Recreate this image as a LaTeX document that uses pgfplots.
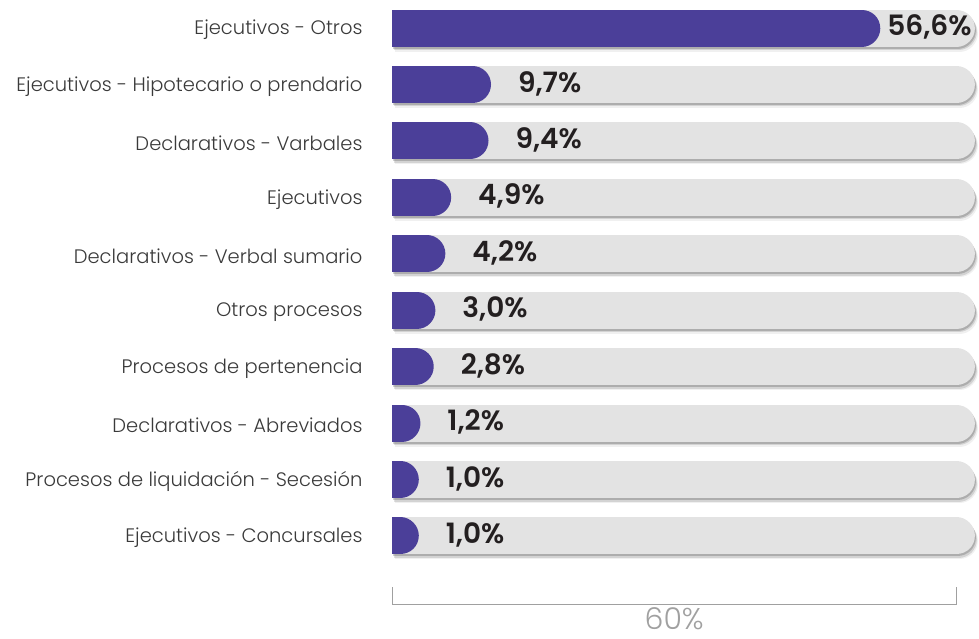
\documentclass[border=0pt]{standalone}
\usepackage{pgfplots}
\pgfplotsset{compat=1.18}
\usepackage{fontspec}
\setmainfont{Poppins}
\newfontfamily\lightfont{Poppins Light}
\newfontfamily\semifont{Poppins SemiBold}
\definecolor{barpurple}{HTML}{4B3F99}
\definecolor{track}{HTML}{E3E3E3}
\definecolor{labtxt}{HTML}{3A3A3A}
\definecolor{valtxt}{HTML}{231F20}
\definecolor{brk}{HTML}{A0A0A0}
\begin{document}
\begin{tikzpicture}
\path[use as bounding box] (0,0) rectangle (979pt,639pt);
\begin{axis}[
  at={(392pt,74.8pt)}, anchor=south west,
  x=8.3pt, y=56.44pt,
  xmin=0, xmax=72, ymin=0.5, ymax=10.5,
  y dir=reverse,
  clip mode=individual,
  axis line style={draw=none},
  tick style={draw=none},
  xtick=\empty,
  ytick={1,...,10},
  yticklabels={Ejecutivos - Otros, Ejecutivos - Hipotecario o prendario, Declarativos - Varbales, Ejecutivos, Declarativos - Verbal sumario, Otros procesos, Procesos de pertenencia, Declarativos - Abreviados, Procesos de liquidación - Secesión, Ejecutivos - Concursales},
  yticklabel style={font=\lightfont\fontsize{19.5}{22}\selectfont, text=labtxt, anchor=east, xshift=-26pt, yshift=-2pt},
  unbounded coords=jump,
]
% shadows of the tracks
\addplot[line width=37pt, line cap=round, black, opacity=0.06, shift={(3pt,-5pt)}] coordinates {
(0,1) (68,1) (nan,nan) (0,2) (68,2) (nan,nan) (0,3) (68,3) (nan,nan) (0,4) (68,4) (nan,nan) (0,5) (68,5) (nan,nan)
(0,6) (68,6) (nan,nan) (0,7) (68,7) (nan,nan) (0,8) (68,8) (nan,nan) (0,9) (68,9) (nan,nan) (0,10) (68,10)};
\addplot[line width=37pt, line cap=round, black, opacity=0.12, shift={(2pt,-3.5pt)}] coordinates {
(0,1) (68,1) (nan,nan) (0,2) (68,2) (nan,nan) (0,3) (68,3) (nan,nan) (0,4) (68,4) (nan,nan) (0,5) (68,5) (nan,nan)
(0,6) (68,6) (nan,nan) (0,7) (68,7) (nan,nan) (0,8) (68,8) (nan,nan) (0,9) (68,9) (nan,nan) (0,10) (68,10)};
\addplot[line width=37pt, line cap=round, black, opacity=0.18, shift={(1pt,-2pt)}] coordinates {
(0,1) (68,1) (nan,nan) (0,2) (68,2) (nan,nan) (0,3) (68,3) (nan,nan) (0,4) (68,4) (nan,nan) (0,5) (68,5) (nan,nan)
(0,6) (68,6) (nan,nan) (0,7) (68,7) (nan,nan) (0,8) (68,8) (nan,nan) (0,9) (68,9) (nan,nan) (0,10) (68,10)};
% tracks
\addplot[line width=37pt, line cap=round, track] coordinates {
(0,1) (68,1) (nan,nan) (0,2) (68,2) (nan,nan) (0,3) (68,3) (nan,nan) (0,4) (68,4) (nan,nan) (0,5) (68,5) (nan,nan)
(0,6) (68,6) (nan,nan) (0,7) (68,7) (nan,nan) (0,8) (68,8) (nan,nan) (0,9) (68,9) (nan,nan) (0,10) (68,10)};
% value bars
\addplot[line width=37pt, line cap=round, barpurple] coordinates {
(0,1) (56.6,1) (nan,nan) (0,2) (9.7,2) (nan,nan) (0,3) (9.4,3) (nan,nan) (0,4) (4.9,4) (nan,nan) (0,5) (4.2,5) (nan,nan)
(0,6) (3.0,6) (nan,nan) (0,7) (2.8,7) (nan,nan) (0,8) (1.2,8) (nan,nan) (0,9) (1.0,9) (nan,nan) (0,10) (1.0,10)};
% value labels
\addplot[draw=none, mark=none, nodes near coords, point meta=explicit symbolic,
  nodes near coords style={anchor=west, xshift=22pt, yshift=1pt, text=valtxt, font=\semifont\fontsize{28}{32}\selectfont}]
coordinates {(56.6,1) [56,6\%]};
\addplot[draw=none, mark=none, nodes near coords, point meta=explicit symbolic,
  nodes near coords style={anchor=west, xshift=42pt, yshift=1pt, text=valtxt, font=\semifont\fontsize{28}{32}\selectfont}]
coordinates {
(9.7,2) [9,7\%] (9.4,3) [9,4\%] (4.9,4) [4,9\%] (4.2,5) [4,2\%]
(3.0,6) [3,0\%] (2.8,7) [2,8\%] (1.2,8) [1,2\%] (1.0,9) [1,0\%] (1.0,10) [1,0\%]};
% bracket
\draw[brk, line width=0.9pt] (axis cs:0,10.904) -- (axis cs:0,11.205) -- (axis cs:68,11.205) -- (axis cs:68,10.904);
\node[anchor=base, inner sep=0pt, text=brk, font=\lightfont\fontsize{30}{34}\selectfont] at (axis cs:34,11.66) {60\%};
\end{axis}
\end{tikzpicture}
\end{document}
